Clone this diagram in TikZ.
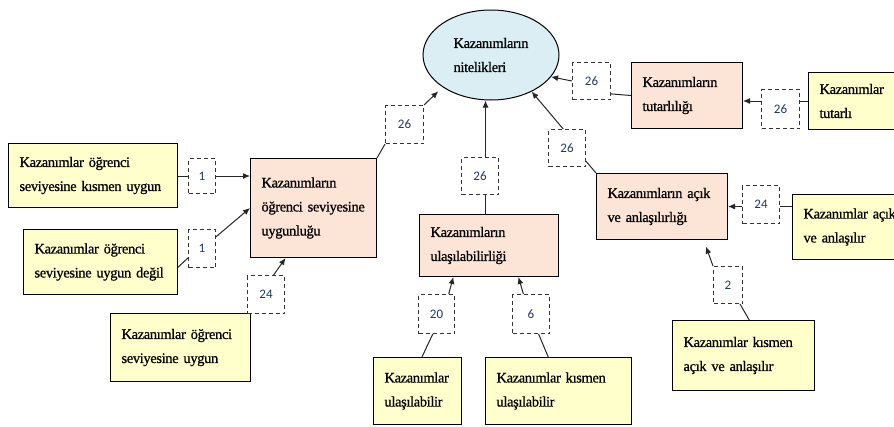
\documentclass[tikz,border=0pt]{standalone}
\usepackage{fontspec}
\setmainfont{Liberation Serif}[WordSpace=0.55, LetterSpace=-2.5, FakeBold=0.7]
\newfontfamily\numfont{Carlito}
\usetikzlibrary{arrows.meta,shapes.geometric,calc}
\definecolor{boxyellow}{RGB}{255,255,204}
\definecolor{boxpeach}{RGB}{252,228,214}
\definecolor{ellblue}{RGB}{218,238,243}
\definecolor{numcol}{RGB}{31,56,100}
\tikzset{
  txt/.style={font=\fontsize{14.5}{24}\selectfont, align=left, inner xsep=11pt, inner ysep=0pt, anchor=north west},
  ybox/.style={txt, draw=black, line width=1pt, fill=boxyellow},
  pbox/.style={txt, draw=black, line width=1pt, fill=boxpeach},
  numbox/.style={draw=black!80, line width=1pt, dash pattern=on 4pt off 3pt,
    font=\numfont\fontsize{13}{15}\selectfont, text=numcol, inner sep=0pt, anchor=north west},
  conn/.style={line width=1pt, draw=black!85},
  arr/.style={conn, -{Latex[length=7pt,width=6pt]}}
}
\begin{document}
\begin{tikzpicture}[x=1pt,y=-1pt]
\useasboundingbox (0,0) rectangle (894,426);
\clip (0,0) rectangle (894,426);

% central ellipse
\node[ellipse, draw=black, line width=1pt, fill=ellblue, minimum width=136pt, minimum height=90pt,
      font=\fontsize{14.5}{24}\selectfont, align=left] (ell) at (491,55) {Kazanımların\\nitelikleri};

% content boxes
\node[ybox, text width=147pt, minimum height=64pt] (A) at (8,143) {Kazanımlar öğrenci\\seviyesine kısmen uygun};
\node[ybox, text width=132pt, minimum height=65pt] (B) at (23,229) {Kazanımlar öğrenci\\seviyesine uygun değil};
\node[ybox, text width=118pt, minimum height=68pt] (C) at (110,313) {Kazanımlar öğrenci\\seviyesine uygun};
\node[pbox, text width=104pt, minimum height=99pt] (D) at (250,158) {Kazanımların\\öğrenci seviyesine\\uygunluğu};
\node[pbox, text width=117pt, minimum height=62pt] (E) at (419,214) {Kazanımların\\ulaşılabilirliği};
\node[ybox, text width=66pt, minimum height=67pt] (F) at (373,357) {Kazanımlar\\ulaşılabilir};
\node[ybox, text width=124pt, minimum height=67pt] (G) at (485,357) {Kazanımlar kısmen\\ulaşılabilir};
\node[pbox, text width=89pt, minimum height=66pt] (H) at (631,62) {Kazanımların\\tutarlılığı};
\node[ybox, text width=98pt, minimum height=57pt] (I) at (808,72) {Kazanımlar\\tutarlı};
\node[pbox, text width=109pt, minimum height=66pt] (J) at (596,173) {Kazanımların açık\\ve anlaşılırlığı};
\node[ybox, text width=108pt, minimum height=65pt] (K) at (792,194) {Kazanımlar açık\\ve anlaşılır};
\node[ybox, text width=120pt, minimum height=70pt] (L) at (672,320) {Kazanımlar kısmen\\açık ve anlaşılır};

% dashed count boxes
\node[numbox, minimum width=27pt, minimum height=35pt] (n1a) at (188,158) {1};
\node[numbox, minimum width=27pt, minimum height=38pt] (n1b) at (188,229) {1};
\node[numbox, minimum width=37pt, minimum height=38pt] (n24a) at (247,275) {24};
\node[numbox, minimum width=38pt, minimum height=38pt] (n26a) at (385,105) {26};
\node[numbox, minimum width=37pt, minimum height=37pt] (n26b) at (461,157) {26};
\node[numbox, minimum width=36pt, minimum height=39pt] (n20) at (418,294) {20};
\node[numbox, minimum width=37pt, minimum height=39pt] (n6) at (512,294) {6\hspace{10pt}};
\node[numbox, minimum width=38pt, minimum height=37pt] (n26c) at (572,62) {26};
\node[numbox, minimum width=38pt, minimum height=39pt] (n26d) at (761,89) {26};
\node[numbox, minimum width=37pt, minimum height=37pt] (n26e) at (548,129) {26};
\node[numbox, minimum width=37pt, minimum height=38pt] (n24b) at (742,185) {24};
\node[numbox, minimum width=29pt, minimum height=37pt] (n2) at (713,266) {2};

% left branch
\draw[conn] (A.east |- n1a.west) -- (n1a.west);
\draw[arr] (n1a.east) -- (n1a.east -| D.west);
\draw[conn] ($(B.north east)!0.58!(B.south east)$) -- ($(n1b.north west)!0.74!(n1b.south west)$);
\draw[arr] ($(n1b.north east)!0.2!(n1b.south east)$) -- ($(D.north west)!0.5!(D.south west)$);
\draw[arr] ($(n24a.north west)!0.7!(n24a.north east)$) -- ($(D.south west)!0.28!(D.south east)$);
\draw[conn] (D.north east) -- (n26a.south west);
\draw[arr, shorten >=6pt] (n26a.north east) -- (ell.south west);

% middle branch
\coordinate (mb) at ($(n26b.south)+(5.5,0)$);
\coordinate (mt) at ($(n26b.north)+(5.5,0)$);
\draw[conn] (mb) -- (mb |- E.north);
\draw[arr] (mt) -- (mt |- ell.south);
\draw[arr] ($(n20.north west)!0.83!(n20.north east)$) -- ($(E.south west)!0.245!(E.south east)$);
\draw[conn] ($(F.north west)!0.55!(F.north east)$) -- ($(n20.south west)!0.4!(n20.south east)$);
\draw[arr] ($(n6.north west)!0.3!(n6.north east)$) -- ($(E.south west)!0.71!(E.south east)$);
\draw[conn] ($(G.north west)!0.43!(G.north east)$) -- ($(n6.south west)!0.7!(n6.south east)$);

% right branch
\draw[conn] ($(n26c.north east)!0.84!(n26c.south east)$) -- (H.west);
\draw[arr] (n26c.west) -- (ell.-20);
\draw[arr] (n26d.west |- I.west) -- (H.east |- I.west);
\draw[conn] (n26d.east |- I.west) -- (I.west);
\draw[arr] ($(n26e.north west)!0.4!(n26e.north east)$) -- (ell.-42);
\draw[conn] ($(n26e.north east)!0.85!(n26e.south east)$) -- (J.north west);
\draw[arr] (n24b.west |- J.east) -- (J.east);
\draw[conn] (n24b.east |- J.east) -- (K.west |- J.east);
\draw[arr, shorten >=7pt] (n2.north west) -- ($(J.south west)!0.815!(J.south east)$);
\draw[conn] ($(L.north west)!0.54!(L.north east)$) -- ($(n2.south west)!0.9!(n2.south east)$);
\end{tikzpicture}
\end{document}
